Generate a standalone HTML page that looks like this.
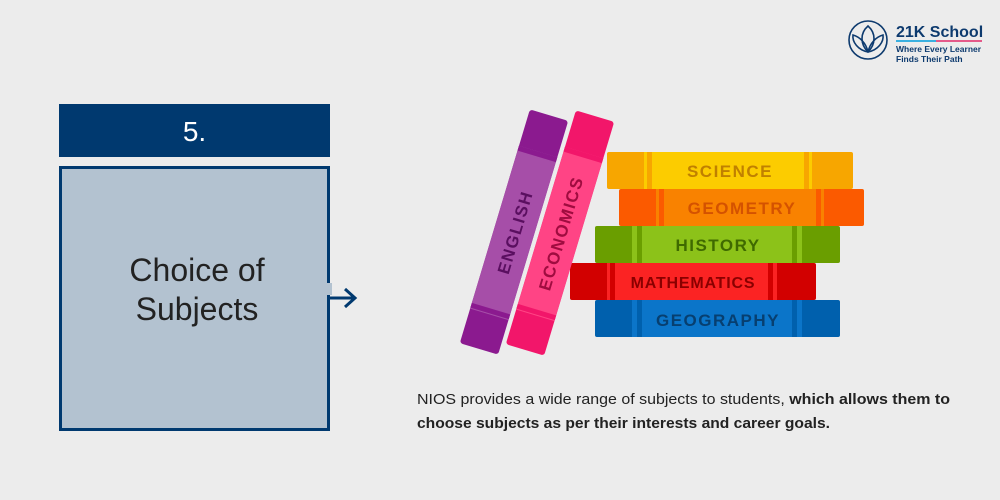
<!DOCTYPE html>
<html><head><meta charset="utf-8"><style>
html,body{margin:0;padding:0;background:#ececec;}
svg{display:block;font-family:"Liberation Sans",sans-serif;}
</style></head><body>
<svg width="1000" height="500" viewBox="0 0 1000 500" xmlns="http://www.w3.org/2000/svg">
<rect width="1000" height="500" fill="#ececec"/>
<!-- logo -->
<g fill="none" stroke="#0d3a6e" stroke-width="1.6">
<circle cx="868" cy="40" r="19"/>
<path d="M868 26 C876 33 876 44 868 52 C860 44 860 33 868 26Z"/>
<path d="M868 52 C858 50 852 42 853 35 C860 37 866 43 868 52"/>
<path d="M868 52 C878 50 884 42 883 35 C876 37 870 43 868 52"/>
</g>
<text x="896" y="37" font-size="16" font-weight="bold" fill="#0d3a6e">21K School</text>
<rect x="896" y="40" width="86" height="2" fill="#e55a8a"/>
<rect x="896" y="40" width="40" height="2" fill="#3ab0e0"/>
<text x="896" y="52" font-size="8.5" font-weight="bold" fill="#0d3a6e">Where Every Learner</text>
<text x="896" y="62" font-size="8.5" font-weight="bold" fill="#0d3a6e">Finds Their Path</text>
<!-- left box -->
<rect x="59" y="104" width="271" height="53" fill="#00396f"/>
<text x="194.5" y="141" font-size="28" fill="#fff" text-anchor="middle">5.</text>
<rect x="60.5" y="167.5" width="268" height="262" fill="#b3c2d0" stroke="#00396f" stroke-width="3"/>
<rect x="326" y="283" width="6" height="12" fill="#b3c2d0"/>
<text x="197" y="281" font-size="32" fill="#222" text-anchor="middle">Choice of</text>
<text x="197" y="320" font-size="32" fill="#222" text-anchor="middle">Subjects</text>
<g stroke="#00396f" stroke-width="3" fill="none">
<line x1="330" y1="298" x2="355" y2="298"/>
<polyline points="345,289 355,298 345,307"/>
</g>
<!-- horizontal books -->
<g font-weight="bold" font-size="17" text-anchor="middle" letter-spacing="1.5">
<rect x="607" y="152" width="246" height="37" fill="#f7a600" rx="2"/>
<rect x="644" y="152" width="168" height="37" fill="#fccc00"/>
<rect x="647" y="152" width="5" height="37" fill="#f7a600"/><rect x="804" y="152" width="5" height="37" fill="#f7a600"/>
<text x="730" y="177" fill="#c08000">SCIENCE</text>
<rect x="619" y="189" width="245" height="37" fill="#fb5a00" rx="2"/>
<rect x="656" y="189" width="168" height="37" fill="#f98200"/>
<rect x="659" y="189" width="5" height="37" fill="#fb5a00"/><rect x="816" y="189" width="5" height="37" fill="#fb5a00"/>
<text x="742" y="214" fill="#d45200">GEOMETRY</text>
<rect x="595" y="226" width="245" height="37" fill="#6a9e00" rx="2"/>
<rect x="632" y="226" width="170" height="37" fill="#8cc219"/>
<rect x="637" y="226" width="5" height="37" fill="#6a9e00"/><rect x="792" y="226" width="5" height="37" fill="#6a9e00"/>
<text x="718" y="251" fill="#3f6a00">HISTORY</text>
<rect x="570" y="263" width="246" height="37" fill="#d20000" rx="2"/>
<rect x="607" y="263" width="170" height="37" fill="#fb2323"/>
<rect x="610" y="263" width="5" height="37" fill="#d20000"/><rect x="768" y="263" width="5" height="37" fill="#d20000"/>
<text x="693" y="288" fill="#8a0000" font-size="16" letter-spacing="0.8">MATHEMATICS</text>
<rect x="595" y="300" width="245" height="37" fill="#0060ad" rx="2"/>
<rect x="632" y="300" width="170" height="37" fill="#0b75c9"/>
<rect x="637" y="300" width="5" height="37" fill="#0060ad"/><rect x="792" y="300" width="5" height="37" fill="#0060ad"/>
<text x="718" y="326" fill="#073f70">GEOGRAPHY</text>
</g>
<!-- vertical books -->
<g transform="translate(514,232) rotate(16.7)">
<rect x="-20" y="-122" width="40" height="244" rx="3" fill="#8b1a8f"/>
<rect x="-20" y="-84" width="40" height="170" fill="#a64ea8"/>
<rect x="-20" y="-84" width="40" height="5" fill="#8b1a8f"/><rect x="-20" y="80" width="40" height="5" fill="#8b1a8f"/>
<text transform="rotate(-90)" x="0" y="7" font-size="17" font-weight="bold" fill="#5a0f60" text-anchor="middle" letter-spacing="1.5">ENGLISH</text>
</g>
<g transform="translate(560,233) rotate(16.7)">
<rect x="-20" y="-122" width="40" height="244" rx="3" fill="#f2166a"/>
<rect x="-20" y="-84" width="40" height="170" fill="#ff4485"/>
<rect x="-20" y="-84" width="40" height="5" fill="#f2166a"/><rect x="-20" y="80" width="40" height="5" fill="#f2166a"/>
<text transform="rotate(-90)" x="0" y="7" font-size="17" font-weight="bold" fill="#a00c40" text-anchor="middle" letter-spacing="1.5">ECONOMICS</text>
</g>
<!-- description -->
<text x="417" y="404" font-size="15" fill="#222" textLength="533" lengthAdjust="spacingAndGlyphs">NIOS provides a wide range of subjects to students, <tspan font-weight="bold">which allows them to</tspan></text>
<text x="417" y="428" font-size="15" fill="#222" font-weight="bold" textLength="413" lengthAdjust="spacingAndGlyphs">choose subjects as per their interests and career goals.</text>
</svg>
</body></html>
